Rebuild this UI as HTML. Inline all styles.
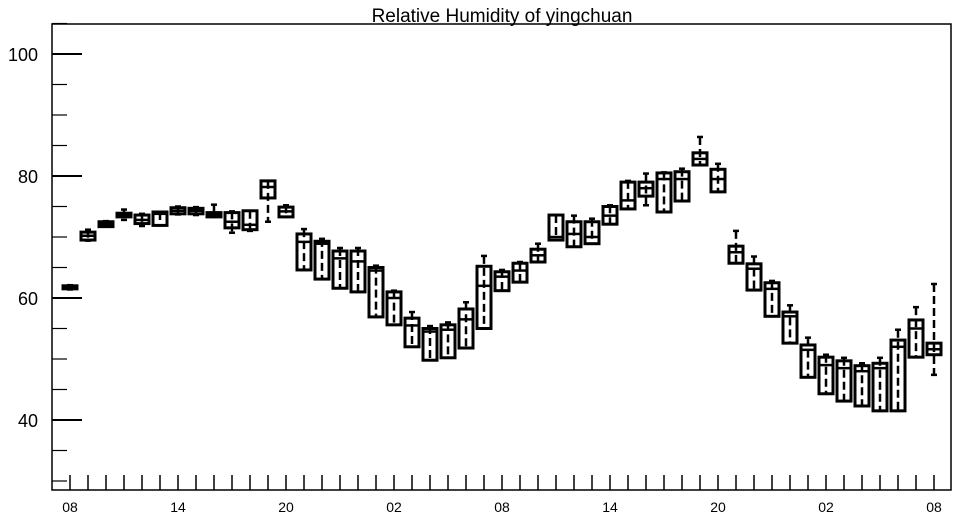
<!DOCTYPE html>
<html><head><meta charset="utf-8"><style>
body{margin:0;background:#fff;}
svg{display:block;font-family:"Liberation Sans",sans-serif;}
</style></head><body>
<svg id="chart" width="957" height="520">
<text x="502" y="22" text-anchor="middle" font-size="19">Relative Humidity of yingchuan</text>
<rect x="52" y="24" width="899" height="466" fill="none" stroke="#000" stroke-width="1.5"/>
<g id="axes"></g>
<g id="marks"></g>
</svg>
<script>
const q1   = [61.5,69.5,71.7,73.3,72.2,71.9,73.8,73.8,73.3,71.5,71.2,76.4,73.3,64.6,63.1,61.6,61.0,56.9,55.6,52.0,49.8,50.2,51.8,55.0,61.2,62.6,65.9,69.5,68.4,68.9,72.1,74.6,76.7,74.1,75.9,81.8,77.4,65.7,61.3,57.0,52.6,47.0,44.3,43.1,42.3,41.5,41.5,50.3,50.7];
const q3   = [62.0,70.8,72.5,73.9,73.6,74.1,74.8,74.7,74.0,74.0,74.3,79.2,74.9,70.5,69.3,67.7,67.7,65.0,61.0,56.7,55.0,55.6,58.2,65.2,64.3,65.7,68.0,73.6,72.5,72.5,75.0,79.0,79.0,80.5,80.7,83.8,81.1,68.5,65.6,62.5,57.7,52.3,50.3,49.7,48.9,49.3,53.1,56.4,52.6];
const med  = [61.8,70.2,72.1,73.6,72.8,73.8,74.3,74.3,73.7,72.5,72.0,78.2,74.2,69.2,68.9,66.5,66.0,64.5,60.0,55.5,54.5,54.8,56.5,62.0,63.5,64.5,67.0,70.0,70.5,70.0,73.5,76.0,78.0,79.5,79.5,82.8,79.5,67.5,64.8,61.5,57.0,51.5,49.0,48.5,48.0,48.5,52.0,55.0,51.6];
const wmin = [61.4,69.4,71.7,72.8,71.8,71.9,73.7,73.6,73.3,70.7,71.0,72.5,73.3,64.6,63.1,61.6,61.0,56.9,55.6,52.0,49.8,50.2,51.8,55.0,61.2,62.6,65.9,69.5,68.4,68.9,72.1,74.6,75.2,74.1,75.9,81.8,77.4,65.7,61.3,57.0,52.6,47.0,44.3,43.1,42.3,41.5,41.5,50.3,47.4];
const wmax = [62.1,71.2,72.6,74.5,73.8,74.1,75.0,74.9,75.3,74.2,74.3,79.2,75.2,71.3,69.7,68.2,68.2,65.3,61.2,57.7,55.4,56.0,59.3,66.9,64.6,65.9,68.9,73.6,73.5,73.0,75.2,79.2,80.4,80.6,81.2,86.4,82.0,71.0,66.8,62.8,58.8,53.5,50.7,50.2,49.3,50.2,54.8,58.5,62.3];
const xLabels = ["08","14","20","02","08","14","20","02","08"];
const yLabels = [40,60,80,100];

const NS="http://www.w3.org/2000/svg";
const X0=70, DX=18, YREF=298, SY=6.1;
function xs(i){return X0+i*DX;}
function ys(v){return YREF-(v-60)*SY;}
function mk(tag,attrs,parent){const e=document.createElementNS(NS,tag);for(const k in attrs)e.setAttribute(k,attrs[k]);parent.appendChild(e);return e;}
const axes=document.getElementById('axes'), marks=document.getElementById('marks');
// y ticks
for(let v=30;v<=105;v+=5){
  const major=v%20===0;
  const t=mk('line',{x1:52,x2:major?82:67,y1:ys(v),y2:ys(v),stroke:'#000','stroke-width':major?2:1.2},axes);
  
  
}
yLabels.forEach(v=>{
  const t=mk('text',{x:38,y:ys(v)+7,'text-anchor':'end','font-size':18},axes);
  t.textContent=v;
  
  
});
// x ticks
for(let i=0;i<49;i++){
  const t=mk('line',{x1:xs(i),x2:xs(i),y1:475,y2:490,stroke:'#000','stroke-width':1.5},axes);
  
  
}
xLabels.forEach((s,k)=>{
  const t=mk('text',{x:xs(k*6),y:512,'text-anchor':'middle','font-size':14},axes);
  t.textContent=s;
  
  
});
// boxes
for(let i=0;i<q1.length;i++){
  const g=mk('g',{},marks);
  
  
  const x=xs(i), w=14;
  mk('line',{x1:x,x2:x,y1:ys(wmax[i]),y2:ys(wmin[i]),stroke:'#000','stroke-width':2.5,'stroke-dasharray':'8,4'},g);
  mk('line',{x1:x-3,x2:x+3,y1:ys(wmax[i]),y2:ys(wmax[i]),stroke:'#000','stroke-width':2.5},g);
  mk('line',{x1:x-3,x2:x+3,y1:ys(wmin[i]),y2:ys(wmin[i]),stroke:'#000','stroke-width':2.5},g);
  mk('rect',{x:x-w/2,y:ys(q3[i]),width:w,height:Math.max(2,ys(q1[i])-ys(q3[i])),fill:'none',stroke:'#000','stroke-width':3},g);
  mk('line',{x1:x-w/2,x2:x+w/2,y1:ys(med[i]),y2:ys(med[i]),stroke:'#000','stroke-width':2.5},g);
}
</script>
</body></html>
